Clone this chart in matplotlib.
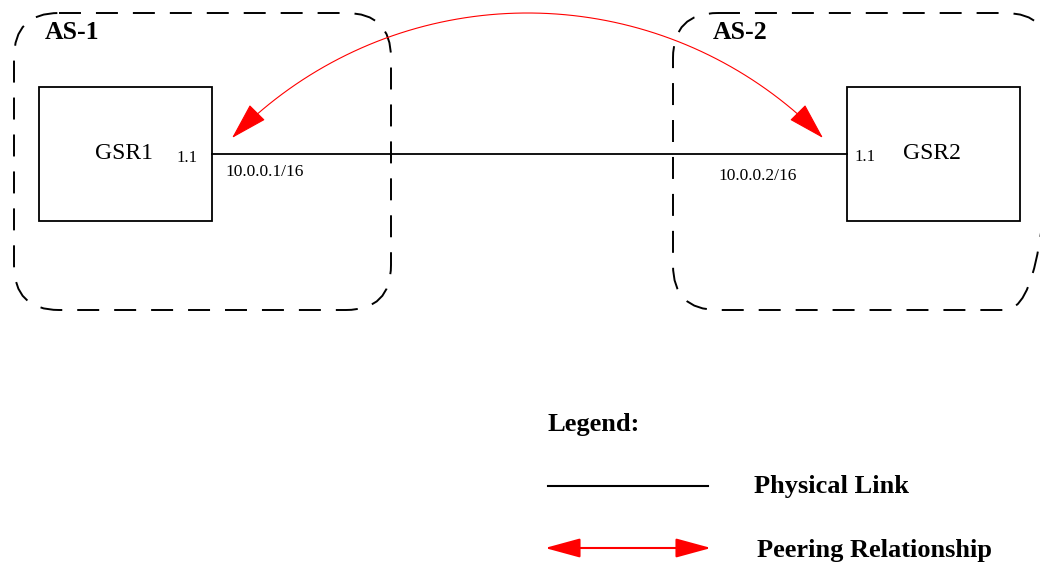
import numpy as np
import matplotlib.pyplot as plt
from matplotlib.patches import FancyBboxPatch, Rectangle, FancyArrowPatch
from matplotlib.path import Path

plt.rcParams['font.family'] = ['Liberation Serif', 'DejaVu Serif']

# autonomous systems: name, (x0, y0, x1, y1) in pixel space, label spot
as_names = ['AS-1', 'AS-2']
as_boxes = [(14, 13, 391, 310), (673, 13, 1050, 310)]
as_label_pos = [(45, 39), (713, 39)]

# routers
routers = ['GSR1', 'GSR2']
router_boxes = [(39, 87, 212, 221), (847, 87, 1020, 221)]
router_label_pos = [(124, 159), (932, 159)]
iface = ['1.1', '1.1']
iface_pos = [(187, 162), (865, 161)]
addrs = ['10.0.0.1/16', '10.0.0.2/16']
addr_pos = [(225, 176), (718, 180)]

link_y = 154
peer_ends = [(232, 138), (823, 138)]
peer_top = 13

legend_items = ['Physical Link', 'Peering Relationship']

fig = plt.figure(figsize=(10.4, 5.63), dpi=100)
ax = fig.add_axes([0, 0, 1, 1])
ax.set_xlim(0, 1040)
ax.set_ylim(563, 0)
ax.axis('off')

for name, (x0, y0, x1, y1), (lx, ly) in zip(as_names, as_boxes, as_label_pos):
    ax.add_patch(FancyBboxPatch((x0, y0), x1 - x0, y1 - y0,
                                boxstyle='round,pad=0,rounding_size=45',
                                fill=False, ec='black', lw=1.4,
                                ls=(0, (11.3, 7.7))))
    ax.text(lx, ly, name, fontsize=18.5, fontweight='bold', va='baseline')

for name, (x0, y0, x1, y1), (lx, ly) in zip(routers, router_boxes, router_label_pos):
    ax.add_patch(Rectangle((x0, y0), x1 - x0, y1 - y0, fill=False,
                           ec='black', lw=1.3, zorder=3))
    ax.text(lx, ly, name, fontsize=17, ha='center', va='baseline')

for s, (x, y) in zip(iface, iface_pos):
    ax.text(x, y, s, fontsize=12, ha='center', va='baseline')
for s, (x, y) in zip(addrs, addr_pos):
    ax.text(x, y, s, fontsize=12.5, va='baseline')

# physical link
ax.plot([router_boxes[0][2], router_boxes[1][0]], [link_y, link_y],
        color='black', lw=1.3)

# peering arc: circle through both ends and the top point
(xa, ya), (xb, yb) = peer_ends
c = (xb - xa) / 2
h = ya - peer_top
r = (c ** 2 + h ** 2) / (2 * h)
cx, cy = (xa + xb) / 2, peer_top + r
a0 = np.arctan2(ya - cy, xa - cx)
a1 = np.arctan2(yb - cy, xb - cx)
t = np.linspace(a0, a1, 80)
arc = Path(np.column_stack([cx + r * np.cos(t), cy + r * np.sin(t)]))
ax.add_patch(FancyArrowPatch(path=arc,
                             arrowstyle='<|-|>,head_length=1.2,head_width=0.35',
                             mutation_scale=20, color='red', lw=0.8))

# legend
ax.text(548, 431, 'Legend:', fontsize=19, fontweight='bold', va='baseline')
ax.plot([548, 708], [486, 486], color='black', lw=1.5)
ax.text(754, 493, legend_items[0], fontsize=19, fontweight='bold', va='baseline')
ax.add_patch(FancyArrowPatch((545, 548), (711, 548),
                             arrowstyle='<|-|>,head_length=1.1,head_width=0.3',
                             mutation_scale=20, color='red', lw=1.5,
                             shrinkA=0, shrinkB=0))
ax.text(757, 557, legend_items[1], fontsize=19, fontweight='bold',
        va='baseline')

fig.savefig('out.png', dpi=100)
